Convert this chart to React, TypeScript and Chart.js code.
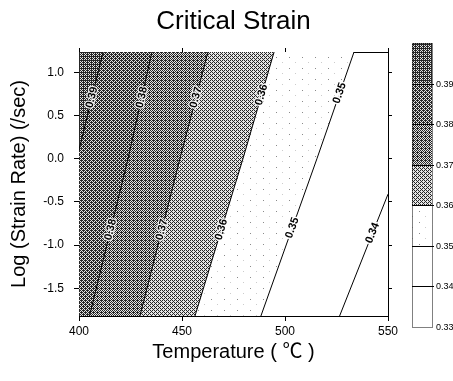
import React, { useEffect, useRef } from "react";
import { Chart, registerables } from "chart.js";

Chart.register(...registerables);

// ---- axis ranges & ticks ----
const X_MIN = 400;
const X_MAX = 550;
const Y_MIN = -1.82;
const Y_MAX = 1.235;
const X_TICKS = [400, 450, 500, 550];
const Y_TICKS = [-1.5, -1.0, -0.5, 0.0, 0.5, 1.0];

// ---- contour lines (Temperature, Log strain rate) ----
const C039 = [
  { x: 400.0, y: 0.1 },
  { x: 411.7, y: 1.235 },
];
const C038 = [
  { x: 405.1, y: -1.82 },
  { x: 423.8, y: 0.0 },
  { x: 435.4, y: 1.235 },
];
const C037 = [
  { x: 429.6, y: -1.82 },
  { x: 449.0, y: 0.0 },
  { x: 462.6, y: 1.235 },
];
const C036 = [
  { x: 456.3, y: -1.82 },
  { x: 479.6, y: 0.0 },
  { x: 494.7, y: 1.235 },
];
const C035 = [
  { x: 488.3, y: -1.82 },
  { x: 515.5, y: 0.0 },
  { x: 533.5, y: 1.235 },
];
const C034 = [
  { x: 526.5, y: -1.82 },
  { x: 550.0, y: -0.41 },
];

// contour label positions (log strain rate along each line)
const LBL039 = [0.71];
const LBL038 = [0.71, -0.82];
const LBL037 = [0.71, -0.82];
const LBL036 = [0.74, -0.82];
const LBL035 = [0.76, -0.8];
const LBL034 = [-0.86];

// colour bar levels (top to bottom)
const CB_LEVELS = [0.4, 0.39, 0.38, 0.37, 0.36, 0.35, 0.34, 0.33];

const FONT_SANS = "'Liberation Sans', Arial, sans-serif";
const FONT_DEG = "'Liberation Sans', 'Noto Sans CJK KR', sans-serif";

const BAYER = [
  [0, 8, 2, 10],
  [12, 4, 14, 6],
  [3, 11, 1, 9],
  [15, 7, 13, 5],
];

function ditherPattern(n: number): CanvasPattern | string {
  const c = document.createElement("canvas");
  c.width = 4;
  c.height = 4;
  const g = c.getContext("2d");
  if (!g) return "#888";
  for (let yy = 0; yy < 4; yy++) {
    for (let xx = 0; xx < 4; xx++) {
      g.fillStyle = BAYER[yy][xx] < n ? "#262626" : "#e4e4e4";
      g.fillRect(xx, yy, 1, 1);
    }
  }
  return g.createPattern(c, "repeat") || "#888";
}

function specklePattern(): CanvasPattern | string {
  const c = document.createElement("canvas");
  c.width = 13;
  c.height = 11;
  const g = c.getContext("2d");
  if (!g) return "#f8f8f8";
  g.fillStyle = "#ffffff";
  g.fillRect(0, 0, 13, 11);
  g.fillStyle = "#8a8a8a";
  g.fillRect(3, 2, 1, 1);
  g.fillStyle = "#cccccc";
  g.fillRect(9, 7, 1, 1);
  return g.createPattern(c, "repeat") || "#f8f8f8";
}

export default function App() {
  const ref = useRef<HTMLCanvasElement | null>(null);

  useEffect(() => {
    document.body.style.margin = "0";
    const canvas = ref.current;
    if (!canvas) return;

    const P_DARKEST = ditherPattern(11);
    const P_DARK = ditherPattern(10);
    const P_MED = ditherPattern(9);
    const P_LIGHT = ditherPattern(6);
    const P_SPECK = specklePattern();
    const WHITE = "#ffffff";

    const contours = [
      { level: 0.39, pts: C039, labels: LBL039, above: P_DARKEST, below: P_DARK },
      { level: 0.38, pts: C038, labels: LBL038, above: P_DARK, below: P_MED },
      { level: 0.37, pts: C037, labels: LBL037, above: P_MED, below: P_LIGHT },
      { level: 0.36, pts: C036, labels: LBL036, above: P_LIGHT, below: P_SPECK },
      { level: 0.35, pts: C035, labels: LBL035, above: P_SPECK, below: WHITE },
      { level: 0.34, pts: C034, labels: LBL034, above: WHITE, below: WHITE },
    ];
    const bandFills = [P_DARKEST, P_DARK, P_MED, P_LIGHT, P_SPECK, WHITE, WHITE];

    const datasets: any[] = [];
    contours.forEach((c, i) => {
      if (c.above !== WHITE) {
        const pts =
          c.pts[0].x > X_MIN && c.pts[0].y <= Y_MIN
            ? [{ x: X_MIN, y: Y_MIN }, ...c.pts]
            : c.pts;
        datasets.push({
          data: pts,
          borderColor: "rgba(0,0,0,0)",
          borderWidth: 0,
          pointRadius: 0,
          backgroundColor: c.above,
          fill: "end",
          tension: 0,
          order: 10 + i,
          xAxisID: "x",
          yAxisID: "y",
        });
      }
    });
    contours.forEach((c) => {
      datasets.push({
        data: c.pts,
        borderColor: "#000",
        borderWidth: 1,
        pointRadius: 0,
        fill: false,
        tension: 0,
        order: 1,
        xAxisID: "x",
        yAxisID: "y",
      });
    });

    const contourLabels = {
      id: "contourLabels",
      afterDatasetsDraw(chart: any) {
        const ctx = chart.ctx;
        const xs = chart.scales.x;
        const ys = chart.scales.y;
        const area = chart.chartArea;
        const font = `bold 11px ${FONT_SANS}`;
        contours.forEach((c) => {
          c.labels.forEach((ly) => {
            for (let k = 0; k < c.pts.length - 1; k++) {
              const a = c.pts[k];
              const b = c.pts[k + 1];
              if (ly >= a.y && ly <= b.y) {
                const t = (ly - a.y) / (b.y - a.y);
                const dx = a.x + t * (b.x - a.x);
                const px = xs.getPixelForValue(dx);
                const py = ys.getPixelForValue(ly);
                const ang = Math.atan2(
                  ys.getPixelForValue(b.y) - ys.getPixelForValue(a.y),
                  xs.getPixelForValue(b.x) - xs.getPixelForValue(a.x)
                );
                const text = c.level.toFixed(2);
                ctx.save();
                ctx.font = font;
                const tw = ctx.measureText(text).width + 2;
                // break the line under the label: repaint both bands
                [
                  { y0: -7, h: 7, fill: c.above },
                  { y0: 0, h: 7, fill: c.below },
                ].forEach((half) => {
                  ctx.save();
                  ctx.translate(px, py);
                  ctx.rotate(ang);
                  ctx.beginPath();
                  ctx.rect(-tw / 2, half.y0, tw, half.h);
                  ctx.setTransform(1, 0, 0, 1, 0, 0);
                  ctx.clip();
                  ctx.fillStyle = half.fill as any;
                  ctx.fillRect(area.left, area.top, area.right - area.left, area.bottom - area.top);
                  ctx.restore();
                });
                ctx.translate(px, py);
                ctx.rotate(ang);
                ctx.textAlign = "center";
                ctx.textBaseline = "middle";
                ctx.lineJoin = "round";
                ctx.strokeStyle = "rgba(255,255,255,0.85)";
                ctx.lineWidth = 2.5;
                ctx.strokeText(text, 0, 0);
                ctx.fillStyle = "#000";
                ctx.fillText(text, 0, 0);
                ctx.restore();
                break;
              }
            }
          });
        });
      },
    };

    const colorBar = {
      id: "colorBar",
      afterDraw(chart: any) {
        const ctx = chart.ctx;
        const area = chart.chartArea;
        const x0 = area.right + 24;
        const w = 20;
        const top = area.top - 9;
        const bottom = area.bottom + 11;
        const n = CB_LEVELS.length - 1;
        const step = (bottom - top) / n;
        ctx.save();
        for (let i = 0; i < n; i++) {
          ctx.fillStyle = bandFills[i] as any;
          ctx.fillRect(x0, top + i * step, w, step);
        }
        ctx.strokeStyle = "#000";
        ctx.lineWidth = 1;
        ctx.setLineDash([1, 1]);
        ctx.strokeRect(x0 + 0.5, top + 0.5, w, bottom - top);
        ctx.setLineDash([]);
        ctx.fillStyle = "#000";
        ctx.font = `9px ${FONT_SANS}`;
        ctx.textAlign = "left";
        ctx.textBaseline = "middle";
        for (let i = 1; i <= n; i++) {
          const y = Math.round(top + i * step) + 0.5;
          if (i < n) {
            ctx.beginPath();
            ctx.moveTo(x0, y);
            ctx.lineTo(x0 + w + 2, y);
            ctx.stroke();
          }
          ctx.fillText(CB_LEVELS[i].toFixed(2), x0 + w + 4, y);
        }
        ctx.restore();
      },
    };

    const tickFont = { family: FONT_SANS, size: 12 };

    const chart = new Chart(canvas, {
      type: "line",
      data: { datasets },
      plugins: [contourLabels, colorBar],
      options: {
        animation: false,
        responsive: false,
        devicePixelRatio: 1,
        layout: { padding: { top: 0, right: 59, bottom: 0, left: 0 } },
        plugins: {
          legend: { display: false },
          tooltip: { enabled: false },
          title: {
            display: true,
            text: "Critical Strain",
            fullSize: false,
            color: "#000",
            font: { family: FONT_SANS, size: 26, weight: "normal" },
            padding: { top: 6, bottom: 8.8 },
          },
        },
        scales: {
          x: {
            type: "linear",
            position: "bottom",
            min: X_MIN,
            max: X_MAX,
            afterFit: (s: any) => {
              s.height = 65;
            },
            afterBuildTicks: (s: any) => {
              s.ticks = X_TICKS.map((v) => ({ value: v }));
            },
            ticks: {
              color: "#000",
              font: tickFont,
              padding: 3,
              maxRotation: 0,
              autoSkip: false,
              callback: (v: any) => String(v),
            },
            grid: { drawOnChartArea: false, tickLength: 5, color: "#000" },
            border: { color: "#000", dash: [2, 2] },
            title: {
              display: true,
              text: "Temperature ( \u2103 )",
              color: "#000",
              font: { family: FONT_DEG, size: 20 },
              padding: { bottom: 17 },
            },
          },
          x2: {
            type: "linear",
            position: "top",
            min: X_MIN,
            max: X_MAX,
            afterFit: (s: any) => {
              s.height = 6;
            },
            afterBuildTicks: (s: any) => {
              s.ticks = X_TICKS.map((v) => ({ value: v }));
            },
            ticks: { display: false },
            grid: { drawOnChartArea: false, tickLength: 4, color: "#000" },
            border: { color: "#000", dash: [2, 2] },
          },
          y: {
            type: "linear",
            position: "left",
            min: Y_MIN,
            max: Y_MAX,
            afterFit: (s: any) => {
              s.width = 79;
            },
            afterBuildTicks: (s: any) => {
              s.ticks = Y_TICKS.map((v) => ({ value: v }));
            },
            ticks: {
              color: "#000",
              font: tickFont,
              padding: 10,
              autoSkip: false,
              callback: (v: any) => Number(v).toFixed(1),
            },
            grid: { drawOnChartArea: false, tickLength: 5, color: "#000" },
            border: { color: "#000" },
            title: {
              display: true,
              text: "Log (Strain Rate) (/sec)",
              color: "#000",
              font: { family: FONT_SANS, size: 20 },
              padding: { top: 7 },
            },
          },
          y2: {
            type: "linear",
            position: "right",
            min: Y_MIN,
            max: Y_MAX,
            afterFit: (s: any) => {
              s.width = 6;
            },
            afterBuildTicks: (s: any) => {
              s.ticks = Y_TICKS.map((v) => ({ value: v }));
            },
            ticks: { display: false },
            grid: { drawOnChartArea: false, tickLength: 4, color: "#000" },
            border: { color: "#000", dash: [2, 2] },
          },
        },
      } as any,
    });

    return () => {
      chart.destroy();
    };
  }, []);

  return (
    <div style={{ width: 453, height: 381 }}>
      <canvas ref={ref} width={453} height={381} style={{ display: "block" }} />
    </div>
  );
}
